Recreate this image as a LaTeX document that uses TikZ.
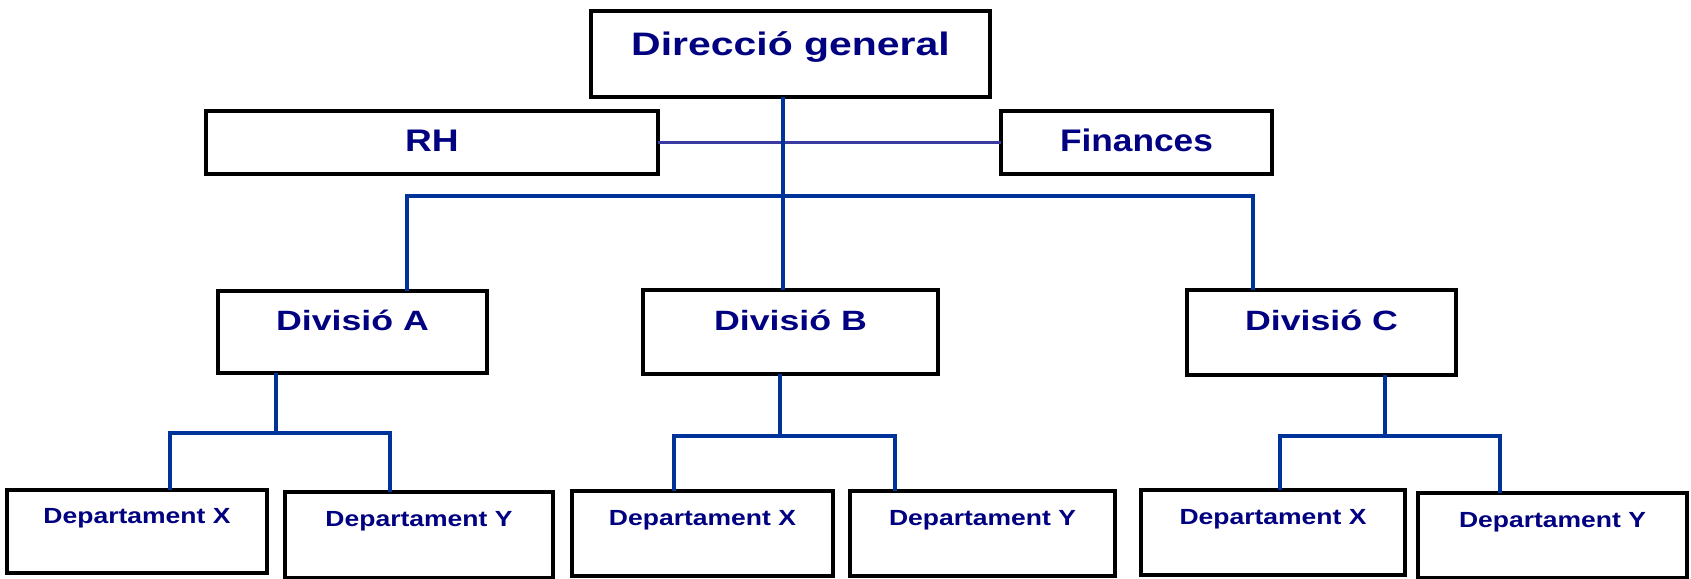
\documentclass[tikz,border=0pt]{standalone}
\usepackage{fontspec}
\setmainfont{Liberation Sans}
\usepackage{graphicx}
\definecolor{labelnavy}{RGB}{0,0,128}
\definecolor{linkblue}{RGB}{0,51,153}
\definecolor{staffblue}{RGB}{58,58,160}
% horizontally widened label text
\newcommand\widetext[2]{\scalebox{#1}[1]{#2}}
\tikzset{
  unitbox/.style={draw=black, line width=3.3pt, fill=white, rectangle,
    inner sep=0pt, outer sep=0pt, text=labelnavy, font=\bfseries},
  topbox/.style={unitbox, font=\bfseries\fontsize{32.5}{36}\selectfont,
    text height=24pt, text depth=20pt},
  staffbox/.style={unitbox, font=\bfseries\fontsize{31.2}{34}\selectfont,
    text height=24pt, text depth=5.6pt},
  divbox/.style={unitbox, font=\bfseries\fontsize{27.9}{31}\selectfont,
    text height=21pt, text depth=25pt},
  deptbox/.style={unitbox, font=\bfseries\fontsize{21.9}{25}\selectfont,
    text height=17pt, text depth=34pt},
  link/.style={draw=linkblue, line width=3.2pt},
  stafflink/.style={draw=staffblue, line width=2.6pt}
}
\begin{document}
\begin{tikzpicture}[x=1pt, y=-1pt]
\useasboundingbox (0,0) rectangle (1691,578);

% top level
\node[topbox, minimum width=399pt, minimum height=86pt] (dg) at (790.5,54)
  {\widetext{1.26}{Direcció general}};

% staff units
\node[staffbox, minimum width=452pt, minimum height=63pt] (rh) at (432,142.5)
  {\widetext{1.19}{RH}};
\node[staffbox, minimum width=271pt, minimum height=63pt] (fin) at (1136.5,142.5)
  {\widetext{1.13}{Finances}};

% divisions
\node[divbox, minimum width=269pt, minimum height=82pt] (da) at (352.5,332)
  {\widetext{1.28}{Divisió A}};
\node[divbox, minimum width=295pt, minimum height=84pt] (db) at (790.5,332)
  {\widetext{1.28}{Divisió B}};
\node[divbox, minimum width=269pt, minimum height=85pt] (dc) at (1321.5,332.5)
  {\widetext{1.28}{Divisió C}};

% departments
\node[deptbox, minimum width=260pt, minimum height=83pt] (xa) at (137,531.5)
  {\widetext{1.21}{Departament X}};
\node[deptbox, minimum width=268pt, minimum height=86pt] (ya) at (419,535)
  {\widetext{1.21}{Departament Y}};
\node[deptbox, minimum width=261pt, minimum height=85pt] (xb) at (702.5,533.5)
  {\widetext{1.21}{Departament X}};
\node[deptbox, minimum width=265pt, minimum height=85pt] (yb) at (982.5,533.5)
  {\widetext{1.21}{Departament Y}};
\node[deptbox, minimum width=264pt, minimum height=85pt] (xc) at (1273,532.5)
  {\widetext{1.21}{Departament X}};
\node[deptbox, minimum width=269pt, minimum height=85pt] (yc) at (1552.5,535.5)
  {\widetext{1.21}{Departament Y}};

% junction points of the buses
\coordinate (bus) at (783,196);
\coordinate (ja) at (276,433);
\coordinate (jb) at (780,436);
\coordinate (jc) at (1385,436);

% staff line
\draw[stafflink] (rh.east) -- (fin.west);

% general direction to divisions
\draw[link] ([xshift=-7.5pt]dg.south) -- ([xshift=-7.5pt]db.north);
\draw[link] ([xshift=54.5pt]da.north) |- (bus) -| ([xshift=-68.5pt]dc.north);

% divisions to departments
\draw[link] ([xshift=-76.5pt]da.south) -- (ja);
\draw[link] ([xshift=33pt]xa.north) |- (ja) -| ([xshift=-29pt]ya.north);
\draw[link] ([xshift=-10.5pt]db.south) -- (jb);
\draw[link] ([xshift=-28.5pt]xb.north) |- (jb) -| ([xshift=-87.5pt]yb.north);
\draw[link] ([xshift=63.5pt]dc.south) -- (jc);
\draw[link] ([xshift=7pt]xc.north) |- (jc) -| ([xshift=-52.5pt]yc.north);
\end{tikzpicture}
\end{document}
